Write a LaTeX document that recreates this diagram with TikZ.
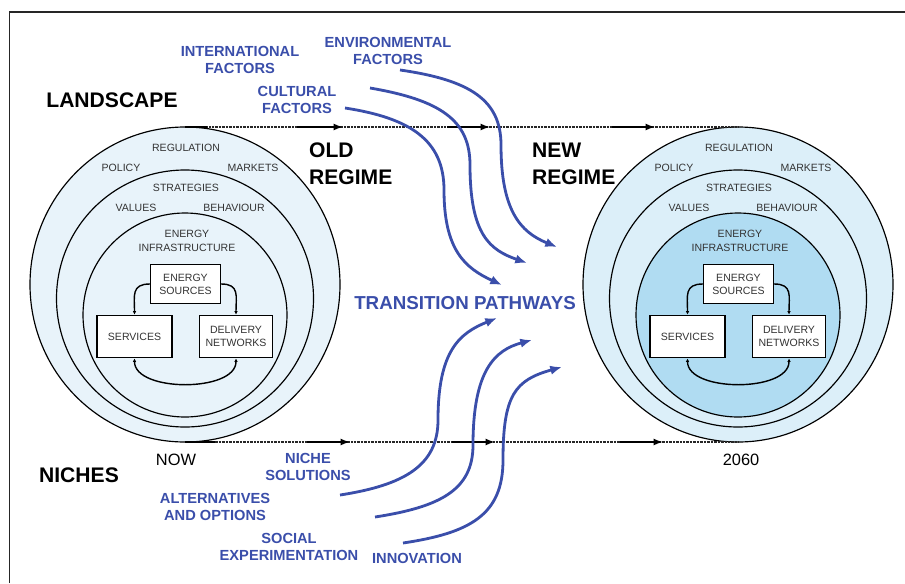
\documentclass[tikz,border=0pt]{standalone}
\usepackage{fontspec}
\setmainfont{Liberation Sans}
\usetikzlibrary{arrows.meta}
\definecolor{pathblue}{RGB}{58,78,170}
\definecolor{oldfill}{RGB}{232,243,250}
\definecolor{newfill}{RGB}{220,239,249}
\definecolor{newcore}{RGB}{176,220,242}

\begin{document}
\begin{tikzpicture}[x=0.03cm,y=-0.03cm,
    lbl/.style={font=\fontsize{9}{12}\selectfont,text=black!80,align=center},
    boxlbl/.style={draw,fill=white,line width=0.9pt,align=center,inner sep=0pt,font=\fontsize{9}{11}\selectfont,text=black!80},
    big/.style={font=\fontsize{18}{23}\selectfont\bfseries,align=left},
    year/.style={font=\fontsize{14}{16}\selectfont},
    factor/.style={font=\fontsize{12.5}{14.5}\selectfont\bfseries,text=pathblue,align=center},
    pathway/.style={draw=pathblue,line width=2.4pt,-{Latex[length=10pt,width=8pt]}},
    loop/.style={line width=1.2pt},
    timeline/.style={line width=1.6pt,black!85,dash pattern=on 0.7pt off 0.5pt},
    timestep/.style={line width=1.6pt,-{Latex[length=8pt,width=6pt]}}]

    \useasboundingbox (0,0) rectangle (905,583);
    \draw[line width=1.7pt,black!85] (9.5,583) -- (9.5,12) -- (905,12);

    % the two regimes
    \foreach \cx/\fa/\fb/\n in {185/oldfill/oldfill/old,738/newfill/newcore/new}
    {
        \draw[line width=1pt,fill=\fa] (\cx,284.5) ellipse[x radius=155,y radius=157.5];
        \draw[line width=1pt,fill=\fa] (\cx,298.5) circle[radius=128.5];
        \draw[line width=1pt,fill=\fb] (\cx,315) circle[radius=102];

        \node[lbl] (reg-\n) at (\cx+1,148) {REGULATION};
        \node[lbl] (pol-\n) at (\cx-64,168) {POLICY};
        \node[lbl] (mkt-\n) at (\cx+68,168) {MARKETS};
        \node[lbl] (str-\n) at (\cx+1,188) {STRATEGIES};
        \node[lbl] (val-\n) at (\cx-49,208) {VALUES};
        \node[lbl] (beh-\n) at (\cx+49,208) {BEHAVIOUR};
        \node[lbl] (inf-\n) at (\cx+2,241) {ENERGY\\INFRASTRUCTURE};

        \node[boxlbl,minimum width=60pt,minimum height=33pt] (es-\n) at (\cx+0.5,284) {ENERGY\\SOURCES};
        \node[boxlbl,minimum width=64pt,minimum height=36.5pt] (svc-\n) at (\cx-50.5,336.5) {SERVICES};
        \node[boxlbl,minimum width=63pt,minimum height=36.5pt] (del-\n) at (\cx+51,336.5) {DELIVERY\\NETWORKS};

        \draw[loop,-{Latex[length=3pt,width=3pt]}] (es-\n.west) to[out=180,in=90,looseness=1.4] (svc-\n.north);
        \draw[loop,-{Latex[length=3pt,width=3pt]}] (es-\n.east) to[out=0,in=90,looseness=1.4] (del-\n.north);
        \draw[loop,{Latex[length=3pt,width=3pt]}-{Latex[length=3pt,width=3pt]}] (svc-\n.south) .. controls +(0,34) and +(0,34) .. (del-\n.south);
    }

    % time lines
    \coordinate (top-old) at (185,127);
    \coordinate (top-new) at (738,127);
    \coordinate (bot-old) at (185,442);
    \coordinate (bot-new) at (738,442);
    \draw[timeline] (top-old) -- (top-new);
    \draw[timeline] (bot-old) -- (bot-new);
    \draw[line width=1.6pt] (top-old) -- (207,127);
    \draw[line width=1.6pt] (bot-old) -- (215,442);
    \foreach \a/\b in {297/343,447/490,612/655}
        \draw[timestep] (\a,127) -- (\b,127);
    \foreach \a/\b in {307/350,452/495,620/663}
        \draw[timestep] (\a,442) -- (\b,442);

    \node[big] (landscape) at (112,100) {LANDSCAPE};
    \node[big,anchor=west] (old) at (305,163.5) {OLD\\REGIME};
    \node[big,anchor=west] (new) at (528,163.5) {NEW\\REGIME};
    \node[big] (niches) at (79,475) {NICHES};
    \node[year] (now) at (176,460) {NOW};
    \node[year] (y2060) at (741,460) {2060};

    % landscape pressures
    \node[factor] (intl) at (240,59.5) {INTERNATIONAL\\FACTORS};
    \node[factor] (env) at (388,50.5) {ENVIRONMENTAL\\FACTORS};
    \node[factor] (cult) at (297,99.5) {CULTURAL\\FACTORS};
    \node[font=\fontsize{16}{18}\selectfont\bfseries,text=pathblue] (trans) at (465,303) {TRANSITION PATHWAYS};

    % niche pressures
    \node[factor] (niche) at (308,466.5) {NICHE\\SOLUTIONS};
    \node[factor] (alt) at (215,507) {ALTERNATIVES\\AND OPTIONS};
    \node[factor] (social) at (289,546.5) {SOCIAL\\EXPERIMENTATION};
    \node[factor] (innov) at (417,558) {INNOVATION};

    \coordinate (from-a) at (345,108);
    \coordinate (from-b) at (370,88);
    \coordinate (from-c) at (400,70);
    \coordinate (from-d) at (340,495);
    \coordinate (from-e) at (375,517);
    \coordinate (from-f) at (403,543);
    \coordinate (to-a) at (502,285);
    \coordinate (to-b) at (527,263);
    \coordinate (to-c) at (557,247);
    \coordinate (to-d) at (497,318);
    \coordinate (to-e) at (532,340);
    \coordinate (to-f) at (562,367);

    \draw[pathway] (from-a) .. controls (410,118) and (444,140) .. (444,190) .. controls (444,250) and (465,268) .. (to-a);
    \draw[pathway] (from-b) .. controls (440,100) and (470,120) .. (470,165) .. controls (470,235) and (490,250) .. (to-b);
    \draw[pathway] (from-c) .. controls (470,80) and (501,100) .. (501,145) .. controls (501,210) and (520,232) .. (to-c);
    \draw[pathway] (from-d) .. controls (405,485) and (438,465) .. (438,420) .. controls (438,350) and (460,333) .. (to-d);
    \draw[pathway] (from-e) .. controls (440,507) and (473,490) .. (473,445) .. controls (473,370) and (495,350) .. (to-e);
    \draw[pathway] (from-f) .. controls (470,533) and (503,515) .. (503,460) .. controls (503,395) and (515,380) .. (to-f);

\end{tikzpicture}
\end{document}
